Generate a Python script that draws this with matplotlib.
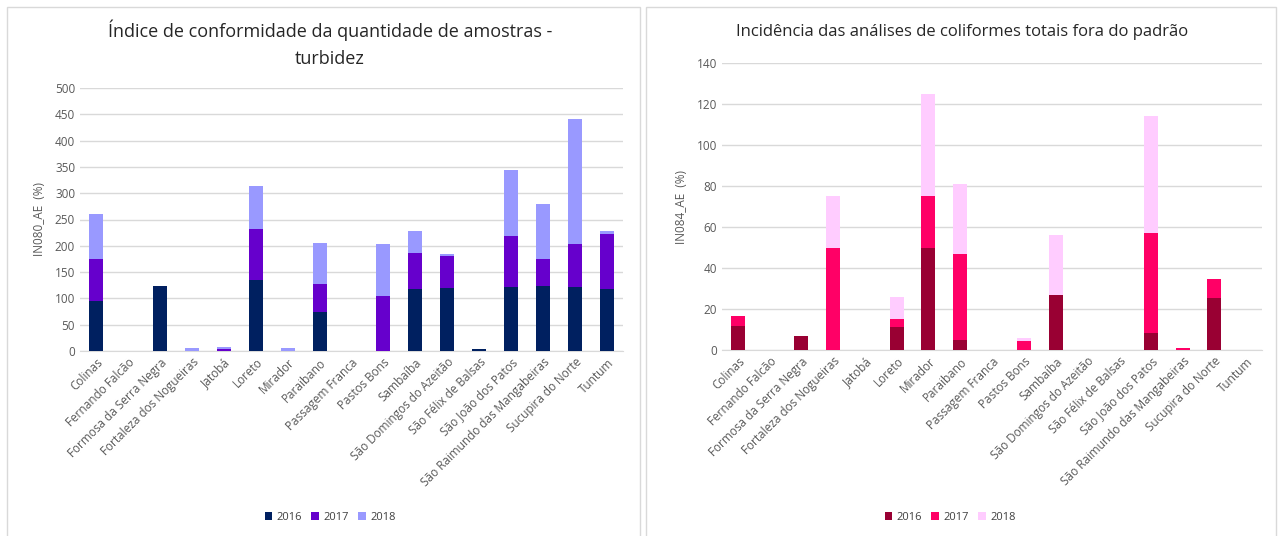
import numpy as np
import matplotlib
matplotlib.use("Agg")
import matplotlib.pyplot as plt
from matplotlib.patches import Rectangle

plt.rcParams['font.family'] = ['Open Sans', 'DejaVu Sans']

####################
# Data
####################
cities = ['Colinas', 'Fernando Falcão', 'Formosa da Serra Negra',
          'Fortaleza dos Nogueiras', 'Jatobá', 'Loreto', 'Mirador',
          'Paraibano', 'Passagem Franca', 'Pastos Bons', 'Sambaíba',
          'São Domingos do Azeitão', 'São Félix de Balsas',
          'São João dos Patos', 'São Raimundo das Mangabeiras',
          'Sucupira do Norte', 'Tuntum']
years = ['2016', '2017', '2018']

# IN080_AE - turbidez
in080_2016 = [95, 0, 124, 0, 0, 135, 0, 74, 0, 0, 117, 119, 3, 122, 124, 122, 117]
in080_2017 = [80, 0, 0, 0, 3, 96, 0, 53, 0, 105, 69, 62, 0, 97, 51, 82, 106]
in080_2018 = [86, 0, 0, 5, 4, 83, 5, 78, 0, 99, 43, 3, 0, 125, 105, 238, 6]

# IN084_AE - coliformes totais
in084_2016 = [11.7, 0, 7, 0, 0, 11, 50, 5, 0, 0, 26.7, 0, 0, 8.3, 0, 25.6, 0]
in084_2017 = [4.8, 0, 0, 50, 0, 4.2, 25, 42, 0, 4.4, 0.3, 0, 0, 48.7, 0.9, 8.9, 0]
in084_2018 = [0, 0, 0, 25, 0, 10.8, 50, 34, 0, 1.3, 29, 0, 0, 57.3, 0, 0, 0]

colors_left = ['#002060', '#6600CC', '#9999FF']
colors_right = ['#990033', '#FF0066', '#FFCCFF']

####################
# Figure
####################
W, H = 1278, 536
fig = plt.figure(figsize=(W / 100, H / 100), dpi=100)

# panel frames
for x0, x1 in [(7, 640), (646, 1276)]:
    fig.patches.append(Rectangle((x0 / W, -0.05), (x1 - x0) / W, (H - 7) / H + 0.05,
                                 transform=fig.transFigure, fill=False,
                                 edgecolor='#d9d9d9', linewidth=1))


def stacked(ax, series, colors, ymax, ystep, ylabel, legend_x):
    x = np.arange(len(cities))
    bottom = np.zeros(len(cities))
    for vals, c, lab in zip(series, colors, years):
        vals = np.array(vals, dtype=float)
        ax.bar(x, vals, width=0.44, bottom=bottom, color=c, label=lab, zorder=3)
        bottom += vals
    ax.set_xlim(-0.5, len(cities) - 0.5)
    ax.set_ylim(0, ymax)
    ax.set_yticks(np.arange(0, ymax + 1, ystep))
    ax.yaxis.grid(True, color='#d9d9d9', linewidth=1, zorder=0)
    ax.set_axisbelow(True)
    for s in ['top', 'right', 'left']:
        ax.spines[s].set_visible(False)
    ax.spines['bottom'].set_color('#d9d9d9')
    ax.tick_params(axis='both', length=0, labelsize=8.5, labelcolor='#595959')
    ax.set_xticks(x)
    ax.set_xticklabels(cities, rotation=45, ha='right', rotation_mode='anchor')
    ax.set_ylabel(ylabel, fontsize=8.5, color='#595959', labelpad=6)
    ax.legend(loc='center', bbox_to_anchor=(legend_x / W, (H - 517) / H),
              bbox_transform=fig.transFigure, ncol=3, frameon=False,
              fontsize=8, labelcolor='#404040', handlelength=0.7, handleheight=0.7,
              columnspacing=0.8, handletextpad=0.4)


ax1 = fig.add_axes([80 / W, (H - 351) / H, 543 / W, 263 / H])
stacked(ax1, [in080_2016, in080_2017, in080_2018], colors_left, 500, 50,
        'IN080_AE  (%)', 330)
fig.text(330 / W, (H - 30) / H, 'Índice de conformidade da quantidade de amostras -',
         ha='center', va='center', fontsize=13, color='#262626')
fig.text(330 / W, (H - 59) / H, 'turbidez', ha='center', va='center',
         fontsize=13, color='#262626')

ax2 = fig.add_axes([722 / W, (H - 350) / H, 540 / W, 287 / H])
stacked(ax2, [in084_2016, in084_2017, in084_2018], colors_right, 140, 20,
        'IN084_AE  (%)', 950)
fig.text(962 / W, (H - 32) / H, 'Incidência das análises de coliformes totais fora do padrão',
         ha='center', va='center', fontsize=12, color='#262626')

fig.savefig('out.png', dpi=100)
